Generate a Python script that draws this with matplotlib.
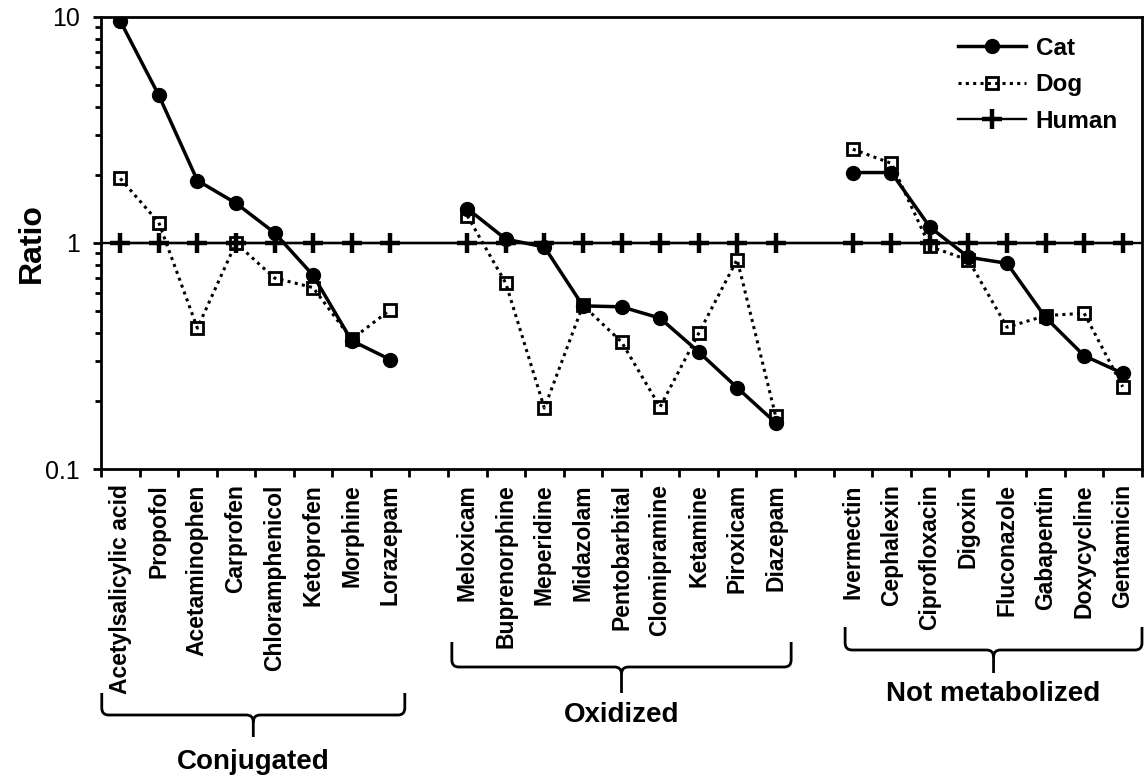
import matplotlib
matplotlib.use("Agg")
import matplotlib.pyplot as plt
import numpy as np
from matplotlib.path import Path
from matplotlib.patches import PathPatch
from matplotlib.transforms import blended_transform_factory
from matplotlib.ticker import LogLocator, NullFormatter, FixedLocator

plt.rcParams['font.family'] = ['Liberation Sans', 'DejaVu Sans']

# drug groups
group_names = ['Conjugated', 'Oxidized', 'Not metabolized']

conjugated = ['Acetylsalicylic acid', 'Propofol', 'Acetaminophen', 'Carprofen',
              'Chloramphenicol', 'Ketoprofen', 'Morphine', 'Lorazepam']
cat_conj = [9.6, 4.5, 1.89, 1.50, 1.11, 0.72, 0.37, 0.305]
dog_conj = [1.93, 1.23, 0.42, 1.0, 0.70, 0.635, 0.375, 0.506]

oxidized = ['Meloxicam', 'Buprenorphine', 'Meperidine', 'Midazolam', 'Pentobarbital',
            'Clomipramine', 'Ketamine', 'Piroxicam', 'Diazepam']
cat_ox = [1.42, 1.04, 0.96, 0.527, 0.522, 0.465, 0.330, 0.229, 0.160]
dog_ox = [1.32, 0.663, 0.186, 0.53, 0.365, 0.188, 0.398, 0.845, 0.171]

not_metabolized = ['Ivermectin', 'Cephalexin', 'Ciprofloxacin', 'Digoxin', 'Fluconazole',
                   'Gabapentin', 'Doxycycline', 'Gentamicin']
cat_nm = [2.05, 2.05, 1.175, 0.865, 0.813, 0.468, 0.317, 0.265]
dog_nm = [2.6, 2.25, 0.965, 0.84, 0.424, 0.477, 0.489, 0.231]

human_ratio = 1.0

groups = [(conjugated, cat_conj, dog_conj),
          (oxidized, cat_ox, dog_ox),
          (not_metabolized, cat_nm, dog_nm)]

W, H = 1144, 780
fig = plt.figure(figsize=(W / 100, H / 100), dpi=100)
ax = fig.add_axes([101 / W, 1 - 469 / H, (1142 - 101) / W, (469 - 17) / H])

all_x = []
all_labels = []
start = 0
for names, cat, dog in groups:
    x = np.arange(start, start + len(names))
    ax.plot(x, cat, color='black', lw=2.5, marker='o', ms=10, zorder=4,
            label='Cat' if start == 0 else None)
    ax.plot(x, dog, color='black', lw=2.2, ls=(0, (1, 1.4)), marker='s', ms=9,
            mfc='none', mec='black', mew=2.0, zorder=5,
            label='Dog' if start == 0 else None)
    all_x.extend(x)
    all_labels.extend(names)
    start += len(names) + 1

ax.axhline(human_ratio, color='black', lw=1.7, zorder=3)
ax.plot(all_x, [human_ratio] * len(all_x), color='black', lw=1.7, marker='+',
        ms=14, mew=3.2, zorder=3, label='Human')

ax.set_yscale('log')
ax.set_ylim(0.1, 10)
ax.set_xlim(-0.5, all_x[-1] + 0.5)

ax.set_yticks([0.1, 1, 10])
ax.set_yticklabels(['0.1', '1', '10'])
ax.yaxis.set_minor_locator(LogLocator(base=10, subs=np.arange(2, 10)))
ax.yaxis.set_minor_formatter(NullFormatter())

ax.set_xticks(all_x)
ax.set_xticklabels(all_labels, rotation=90, fontsize=16.5, fontweight='bold', va='top')
ax.xaxis.set_minor_locator(FixedLocator(np.arange(-0.5, all_x[-1] + 1, 1.0)))

ax.tick_params(axis='x', which='major', length=0, pad=11)
ax.tick_params(axis='x', which='minor', length=6, width=2, direction='out')
ax.tick_params(axis='y', which='major', length=6, width=2, direction='out',
               labelsize=18, pad=9)
ax.tick_params(axis='y', which='minor', length=4, width=2, direction='out')

for s in ax.spines.values():
    s.set_linewidth(2)

ax.set_ylabel('Ratio', fontsize=23, fontweight='bold')
ax.yaxis.set_label_coords(-54 / (1142 - 101), 0.5)

ax.legend(loc='upper left', bbox_to_anchor=(958 / W, 1 - 37 / H),
          bbox_transform=fig.transFigure, frameon=False, borderpad=0,
          borderaxespad=0, handlelength=2.8, handletextpad=0.4,
          labelspacing=0.55, prop={'size': 17.5, 'weight': 'bold'})

# curly braces under each group (pixel rows from top of the figure)
trans = blended_transform_factory(ax.transData, fig.transFigure)
brace_rows = [(693, 715, 737, 762), (642, 667, 693, 715), (627, 650, 673, 694)]
brace_ends = [(-0.48, 7.38), (8.6, 17.4), (18.8, 26.5)]


def fy(py):
    return 1 - py / H


for (x0, x1), (ytop, ymid, ybot, ylab), name in zip(brace_ends, brace_rows, group_names):
    xc = (x0 + x1) / 2
    rx = 0.18
    r = 7
    verts = [(x0, fy(ytop)), (x0, fy(ymid - r)), (x0, fy(ymid)), (x0 + rx, fy(ymid)),
             (xc - rx, fy(ymid)), (xc, fy(ymid)), (xc, fy(ymid + r)),
             (xc, fy(ybot)), (xc, fy(ymid + r)),
             (xc, fy(ymid)), (xc + rx, fy(ymid)),
             (x1 - rx, fy(ymid)), (x1, fy(ymid)), (x1, fy(ymid - r)), (x1, fy(ytop))]
    codes = [Path.MOVETO, Path.LINETO, Path.CURVE3, Path.CURVE3,
             Path.LINETO, Path.CURVE3, Path.CURVE3,
             Path.LINETO, Path.MOVETO,
             Path.CURVE3, Path.CURVE3,
             Path.LINETO, Path.CURVE3, Path.CURVE3, Path.LINETO]
    patch = PathPatch(Path(verts, codes), transform=trans, fill=False,
                      lw=2, edgecolor='black', clip_on=False)
    fig.add_artist(patch)
    fig.text(xc, fy(ylab), name, transform=trans, ha='center', va='center',
             fontsize=20, fontweight='bold')

fig.savefig('out.png', dpi=100)
